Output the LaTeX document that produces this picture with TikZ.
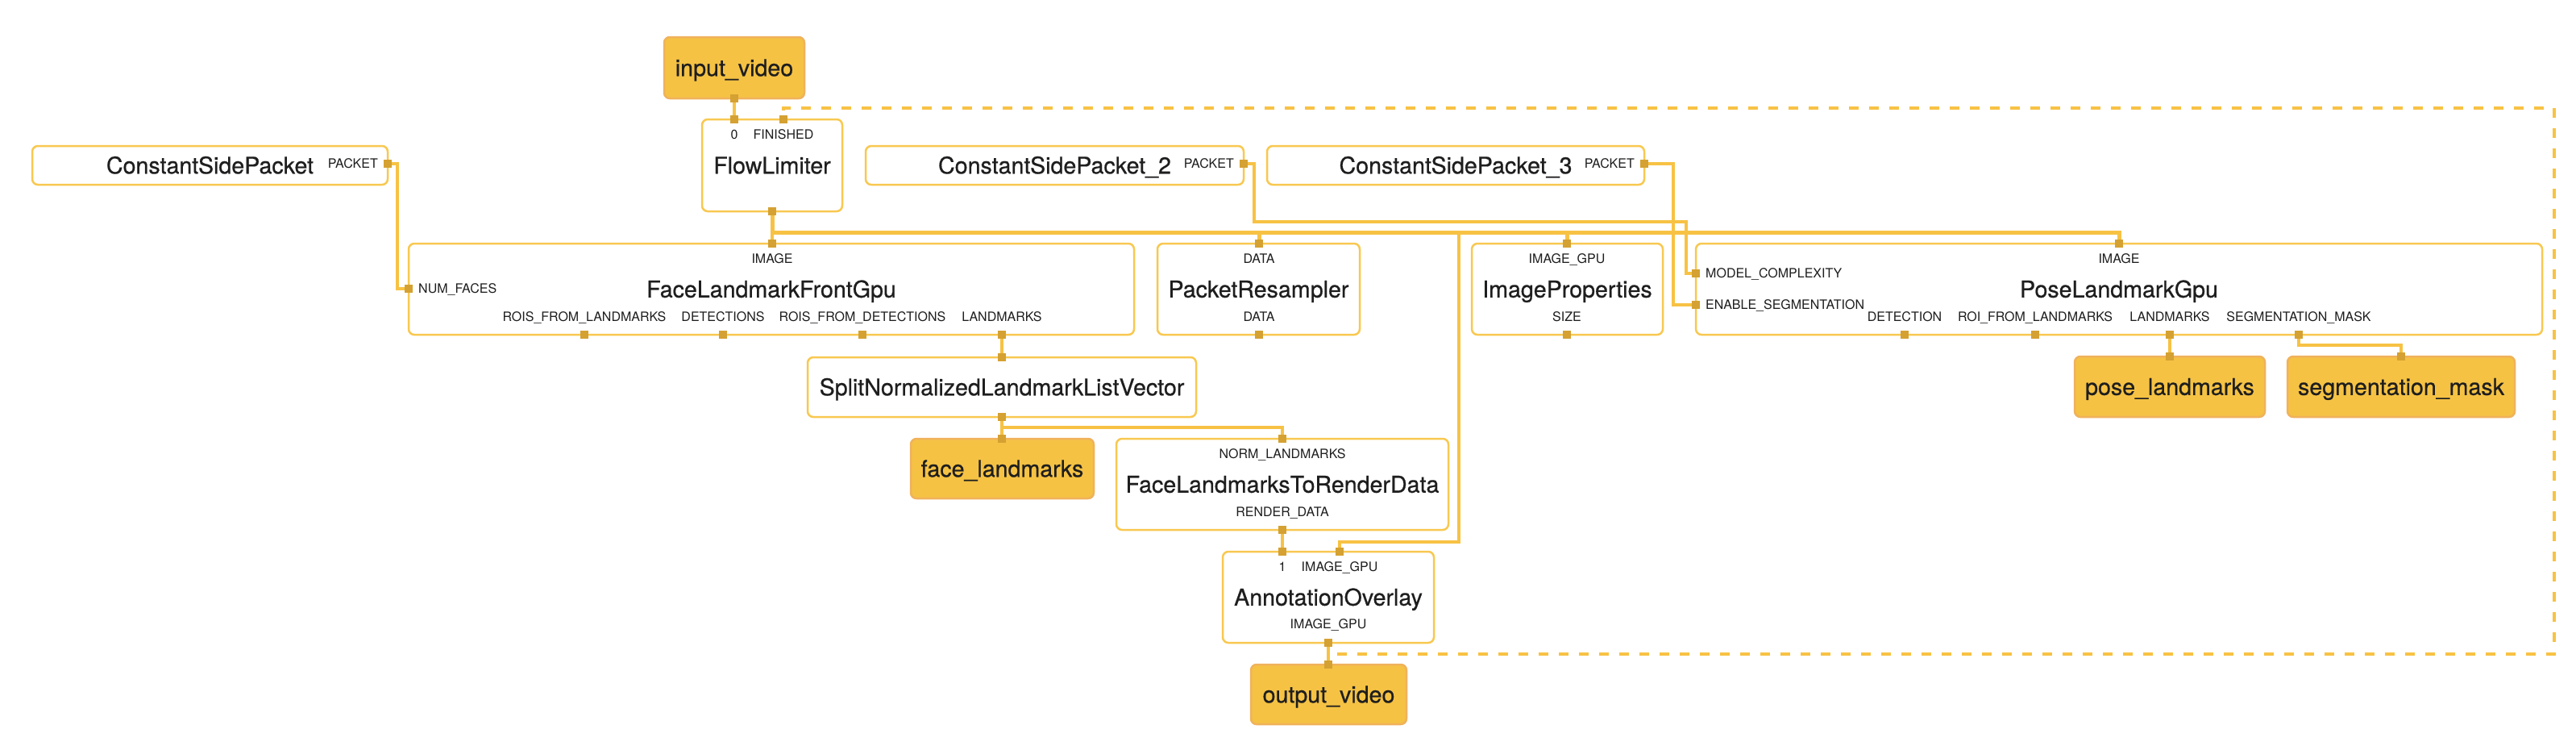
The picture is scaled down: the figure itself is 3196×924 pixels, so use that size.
\documentclass[tikz,border=0pt]{standalone}
\usepackage{fontspec}
\setmainfont{TeX Gyre Heros}
\newfontfamily\titlefont{TeX Gyre Heros}[FakeBold=0.6]
\usetikzlibrary{backgrounds}

\definecolor{wirecol}{RGB}{247,194,68}
\definecolor{boxedge}{RGB}{248,200,80}
\definecolor{pincol}{RGB}{212,161,50}
\definecolor{streamfill}{RGB}{245,194,68}
\definecolor{streamedge}{RGB}{240,178,92}
\definecolor{ink}{RGB}{30,30,30}

\tikzset{
  calcbox/.style={draw=boxedge, fill=white, line width=2.5pt, rounded corners=7pt, inner sep=0pt,
    text=ink, font=\titlefont\fontsize{28.6}{34}\selectfont, text height=20.5pt, text depth=0pt},
  streambox/.style={calcbox, draw=streamedge, fill=streamfill},
  portsq/.style={fill=pincol, inner sep=0pt, minimum size=10pt},
  plabel/.style={inner sep=0pt, text=ink, font=\fontsize{16}{19}\selectfont, text height=11.5pt, text depth=0pt},
  wire/.style={draw=wirecol, line width=4pt},
  bus/.style={draw=wirecol, line width=5pt},
  loopback/.style={draw=wirecol, line width=4pt, dash pattern=on 12pt off 13pt},
}

\begin{document}
\begin{tikzpicture}[x=1pt,y=1pt,yscale=-1]
\useasboundingbox (0,0) rectangle (3196,924);

% Streams
\node[streambox, minimum width=174pt, minimum height=76pt] (iv) at (911,84) {input\_video};
\node[streambox, minimum width=227pt, minimum height=74pt] (flm) at (1243.5,581) {face\_landmarks};
\node[streambox, minimum width=193pt, minimum height=74pt] (ov) at (1648.5,861) {output\_video};
\node[streambox, minimum width=236pt, minimum height=75pt] (plm) at (2692,479.5) {pose\_landmarks};
\node[streambox, minimum width=282pt, minimum height=75pt] (sm) at (2979,479.5) {segmentation\_mask};

% Calculators
\node[calcbox, minimum width=174pt, minimum height=114pt] (flow) at (958,205) {FlowLimiter};
\node[calcbox, minimum width=441pt, minimum height=48pt] (csp1) at (260.5,205) {ConstantSidePacket};
\node[calcbox, minimum width=469pt, minimum height=48pt] (csp2) at (1308.5,205) {ConstantSidePacket\_2};
\node[calcbox, minimum width=468pt, minimum height=48pt] (csp3) at (1806,205) {ConstantSidePacket\_3};
\node[calcbox, minimum width=900pt, minimum height=113pt] (face) at (957,358.5) {FaceLandmarkFrontGpu};
\node[calcbox, minimum width=251pt, minimum height=113pt] (resamp) at (1561.5,358.5) {PacketResampler};
\node[calcbox, minimum width=237pt, minimum height=113pt] (props) at (1944.5,358.5) {ImageProperties};
\node[calcbox, minimum width=1050pt, minimum height=113pt] (pose) at (2629,358.5) {PoseLandmarkGpu};
\node[calcbox, minimum width=482pt, minimum height=74pt] (split) at (1243,480) {SplitNormalizedLandmarkListVector};
\node[calcbox, minimum width=412pt, minimum height=113pt] (render) at (1591,600.5) {FaceLandmarksToRenderData};
\node[calcbox, minimum width=262pt, minimum height=113pt] (overlay) at (1648,740.5) {AnnotationOverlay};

% Port labels
\node[plabel] (lb-fl0) at (911,167) {0};
\node[plabel] (lb-flfin) at (972,167) {FINISHED};
\node[plabel, anchor=east] (lb-c1) at (469,203) {PACKET};
\node[plabel, anchor=east] (lb-c2) at (1531,203) {PACKET};
\node[plabel, anchor=east] (lb-c3) at (2028,203) {PACKET};
\node[plabel] (lb-ffimg) at (958,321) {IMAGE};
\node[plabel, anchor=west] (lb-ffnf) at (519,358) {NUM\_FACES};
\node[plabel] (lb-ffrl) at (725,393) {ROIS\_FROM\_LANDMARKS};
\node[plabel] (lb-ffdet) at (897,393) {DETECTIONS};
\node[plabel] (lb-ffrd) at (1070,393) {ROIS\_FROM\_DETECTIONS};
\node[plabel] (lb-fflm) at (1243,393) {LANDMARKS};
\node[plabel] (lb-prin) at (1562,321) {DATA};
\node[plabel] (lb-prout) at (1562,393) {DATA};
\node[plabel] (lb-ipin) at (1944,321) {IMAGE\_GPU};
\node[plabel] (lb-ipout) at (1944,393) {SIZE};
\node[plabel] (lb-plimg) at (2629,321) {IMAGE};
\node[plabel, anchor=west] (lb-plmc) at (2116,339) {MODEL\_COMPLEXITY};
\node[plabel, anchor=west] (lb-ples) at (2116,378) {ENABLE\_SEGMENTATION};
\node[plabel] (lb-pldet) at (2363,393) {DETECTION};
\node[plabel] (lb-plroi) at (2525,393) {ROI\_FROM\_LANDMARKS};
\node[plabel] (lb-pllm) at (2692,393) {LANDMARKS};
\node[plabel] (lb-plseg) at (2852,393) {SEGMENTATION\_MASK};
\node[plabel] (lb-rdin) at (1591,563) {NORM\_LANDMARKS};
\node[plabel] (lb-rdout) at (1591,635) {RENDER\_DATA};
\node[plabel] (lb-ao1) at (1591,703) {1};
\node[plabel] (lb-aoimg) at (1662,703) {IMAGE\_GPU};
\node[plabel] (lb-aoout) at (1648,774) {IMAGE\_GPU};

% Ports
\node[portsq] (iv-out) at (911,122) {};
\node[portsq] (fl-in0) at (911,148) {};
\node[portsq] (fl-fin) at (972,148) {};
\node[portsq] (fl-out) at (958,262) {};
\node[portsq] (c1-out) at (481,203) {};
\node[portsq] (c2-out) at (1543,203) {};
\node[portsq] (c3-out) at (2040,203) {};
\node[portsq] (ff-img) at (958,302) {};
\node[portsq] (ff-nf) at (507,358) {};
\node[portsq] (ff-rl) at (725,415) {};
\node[portsq] (ff-det) at (897,415) {};
\node[portsq] (ff-rd) at (1070,415) {};
\node[portsq] (ff-lm) at (1243,415) {};
\node[portsq] (pr-in) at (1562,302) {};
\node[portsq] (pr-out) at (1562,415) {};
\node[portsq] (ip-in) at (1944,302) {};
\node[portsq] (ip-out) at (1944,415) {};
\node[portsq] (pl-img) at (2629,302) {};
\node[portsq] (pl-mc) at (2104,339) {};
\node[portsq] (pl-es) at (2104,378) {};
\node[portsq] (pl-det) at (2363,415) {};
\node[portsq] (pl-roi) at (2525,415) {};
\node[portsq] (pl-lm) at (2692,415) {};
\node[portsq] (pl-seg) at (2852,415) {};
\node[portsq] (sp-in) at (1243,443) {};
\node[portsq] (sp-out) at (1243,517) {};
\node[portsq] (flm-in) at (1243,544) {};
\node[portsq] (rd-in) at (1591,544) {};
\node[portsq] (rd-out) at (1591,657) {};
\node[portsq] (ao-in1) at (1591,684) {};
\node[portsq] (ao-img) at (1662,684) {};
\node[portsq] (ao-out) at (1648,797) {};
\node[portsq] (ov-in) at (1648,824) {};
\node[portsq] (plm-in) at (2692,442) {};
\node[portsq] (sm-in) at (2979,442) {};

\coordinate (ao-drop) at (1810,672);
\coordinate (c2-bend) at (2092,275);
\coordinate (loop-corner) at (3169,134);

% Connectors
\begin{scope}[on background layer]
\draw[wire] (iv-out.center) -- (fl-in0.center);
\draw[wire] (fl-out.center) -- (ff-img.center);
\draw[bus] (fl-out.center) -- ++(0,26) -| (pr-in.center);
\draw[bus] (fl-out.center) -- ++(0,26) -| (ip-in.center);
\draw[bus] (fl-out.center) -- ++(0,26) -| (pl-img.center);
\draw[wire] (fl-out.center) -- ++(0,26) -| (ao-drop) -| (ao-img.center);
\draw[wire] (c1-out.center) -- ++(12,0) |- (ff-nf.center);
\draw[wire] (c2-out.center) -- ++(13,0) |- (c2-bend) |- (pl-mc.center);
\draw[wire] (c3-out.center) -- ++(36,0) |- (pl-es.center);
\draw[wire] (ff-lm.center) -- (sp-in.center);
\draw[wire] (sp-out.center) -- (flm-in.center);
\draw[wire] (sp-out.center) -- ++(0,13) -| (rd-in.center);
\draw[wire] (rd-out.center) -- (ao-in1.center);
\draw[wire] (ao-out.center) -- (ov-in.center);
\draw[wire] (pl-lm.center) -- (plm-in.center);
\draw[wire] (pl-seg.center) -- ++(0,13) -| (sm-in.center);
\draw[loopback] (ao-out.center) -- ++(0,14) -| (loop-corner) -| (fl-fin.center);
\end{scope}

\end{tikzpicture}
\end{document}
